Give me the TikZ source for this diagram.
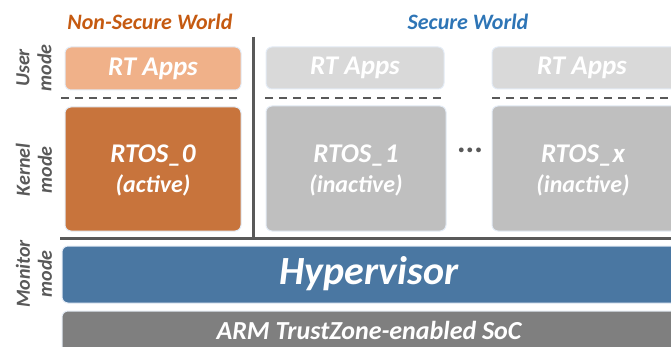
\documentclass[tikz,border=0pt]{standalone}
\usepackage{fontspec}
\setmainfont{Carlito}
\definecolor{nsorange}{HTML}{C55A11}
\definecolor{secblue}{HTML}{2E75B6}
\definecolor{lightor}{HTML}{F0B189}
\definecolor{darkor}{HTML}{C8743C}
\definecolor{lgray}{HTML}{D9D9D9}
\definecolor{mgray}{HTML}{BFBFBF}
\definecolor{hyp}{HTML}{4A77A2}
\definecolor{soc}{HTML}{7F7F7F}
\definecolor{lbl}{HTML}{595959}
\definecolor{glow}{HTML}{E3EBF5}
\tikzset{
  panel/.style={rounded corners=6pt, draw=glow, line width=1pt},
  box/.style={inner sep=0pt, text=white, font=\fontsize{27}{30}\selectfont\bfseries\itshape, align=center},
  modelbl/.style={rotate=90, text=lbl, font=\fontsize{20}{22}\selectfont\bfseries\itshape, align=center},
  sep/.style={draw=lbl, line width=1.5pt, dash pattern=on 8pt off 6pt},
  wall/.style={draw=lbl, line width=3pt}
}
\begin{document}
\begin{tikzpicture}[x=1pt,y=-1pt]
\useasboundingbox (0,0) rectangle (671,347);
% titles
\node[text=nsorange, font=\fontsize{22}{24}\selectfont\bfseries\itshape] (tns) at (150,22) {Non-Secure World};
\node[text=secblue, font=\fontsize{22}{24}\selectfont\bfseries\itshape] (tsw) at (468,22) {Secure World};
% mode labels
\node[modelbl] (um) at (34,68) {User\\[0pt]mode};
\node[modelbl] (km) at (34,170) {Kernel\\[0pt]mode};
\node[modelbl] (mm) at (34,274) {Monitor\\[0pt]mode};
% user boxes
\filldraw[panel, fill=lightor] (65,47) rectangle (241,90);
\node[box] (a0) at (153,69) {RT Apps};
\filldraw[panel, fill=lgray] (266,47) rectangle (444,89);
\node[box] (a1) at (355,68) {RT Apps};
\filldraw[panel, fill=lgray] (492,47) rectangle (680,89);
\node[box] (a2) at (582,68) {RT Apps};
% dashed separators
\coordinate (d0a) at (61,98); \coordinate (d0b) at (240,98);
\coordinate (d1a) at (265,98); \coordinate (d1b) at (445,98);
\coordinate (d2a) at (492,98); \coordinate (d2b) at (671,98);
\draw[sep] (d0a) -- (d0b);
\draw[sep] (d1a) -- (d1b);
\draw[sep] (d2a) -- (d2b);
% kernel boxes
\filldraw[panel, fill=darkor] (65,107) rectangle (241,231);
\node[box] (r0) at (153,170) {RTOS\_0\\[0pt]\fontsize{24}{26}\selectfont (active)};
\filldraw[panel, fill=mgray] (266,106) rectangle (446,231);
\node[box] (r1) at (356,170) {RTOS\_1\\[0pt]\fontsize{24}{26}\selectfont (inactive)};
\filldraw[panel, fill=mgray] (492,106) rectangle (680,231);
\node[box] (rx) at (583,170) {RTOS\_x\\[0pt]\fontsize{24}{26}\selectfont (inactive)};
\node[text=lbl, font=\fontsize{32}{34}\selectfont\bfseries] (dots) at (470,150) {...};
% walls
\coordinate (w0) at (253,37); \coordinate (w1) at (253,238);
\coordinate (h0) at (60,238); \coordinate (h1) at (671,238);
\draw[wall] (w0) -- (w1);
\draw[wall] (h0) -- (h1);
% hypervisor and soc
\filldraw[panel, fill=hyp] (62,246) rectangle (680,303);
\node[box, font=\fontsize{40}{42}\selectfont\bfseries\itshape] (hv) at (369,274) {Hypervisor};
\filldraw[panel, fill=soc] (62,311) rectangle (680,360);
\node[box, font=\fontsize{26}{28}\selectfont\bfseries\itshape] (soc) at (369,330) {ARM TrustZone-enabled SoC};
\end{tikzpicture}
\end{document}
